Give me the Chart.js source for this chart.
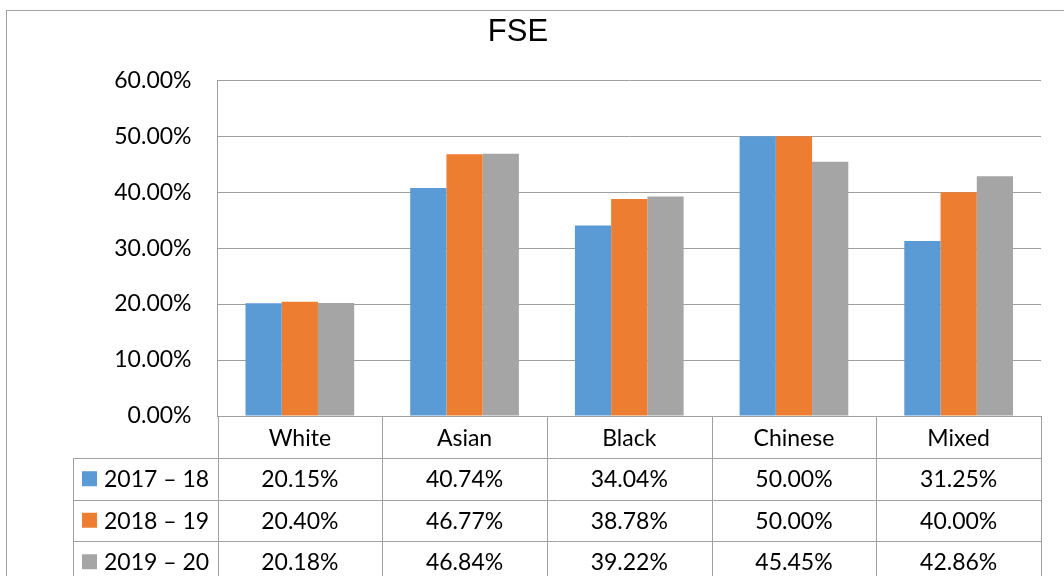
<!DOCTYPE html>
<html>
<head>
<meta charset="utf-8">
<script src="https://cdn.jsdelivr.net/npm/chart.js@4"></script>
<style>
    html, body { margin: 0; padding: 0; background: #fff; }
    #wrap { width: 1064px; height: 576px; }
</style>
</head>
<body>
<div id="wrap"><canvas id="fseChart"></canvas></div>
<script>
const categories = ['White', 'Asian', 'Black', 'Chinese', 'Mixed'];
const seriesNames = ['2017 \u2013 18', '2018 \u2013 19', '2019 \u2013 20'];
const values2017 = [20.15, 40.74, 34.04, 50.00, 31.25];
const values2018 = [20.40, 46.77, 38.78, 50.00, 40.00];
const values2019 = [20.18, 46.84, 39.22, 45.45, 42.86];
const seriesColors = ['#5B9BD5', '#ED7D31', '#A5A5A5'];

const lineGray = '#A0A0A0';
const textFont = '23px Lato';

// draws the outer frame and the data table under the plot
const dataTablePlugin = {
    id: 'dataTable',
    afterLayout(chart) {
        // nudge the title a little left like the original
        chart.titleBlock.left -= 11;
    },
    afterDraw(chart) {
        const ctx = chart.ctx;
        const x = chart.scales.x;
        const area = chart.chartArea;
        const n = categories.length;
        const colW = x.width / n;
        const top = area.bottom + 0.5;
        const rowH = 41.5;
        const legendLeft = 73.5;
        const right = x.right + 0.5;

        ctx.save();
        ctx.strokeStyle = lineGray;
        ctx.lineWidth = 1;

        // outer frame
        ctx.strokeRect(6.5, 10.5, 1200, 700);

        // horizontal row lines
        for (let r = 1; r <= 3; r++) {
            const y = Math.round(top + rowH * r) + 0.5;
            ctx.beginPath();
            ctx.moveTo(legendLeft, y);
            ctx.lineTo(right, y);
            ctx.stroke();
        }
        // vertical column lines
        for (let c = 0; c <= n; c++) {
            const cx = Math.round(x.getPixelForValue(0) - colW / 2 + colW * c) + 0.5;
            ctx.beginPath();
            ctx.moveTo(cx, top);
            ctx.lineTo(cx, chart.height);
            ctx.stroke();
        }
        ctx.beginPath();
        ctx.moveTo(legendLeft, top + rowH);
        ctx.lineTo(legendLeft, chart.height);
        ctx.stroke();

        // legend keys and values
        ctx.font = textFont;
        ctx.fillStyle = '#000';
        ctx.textBaseline = 'middle';
        chart.data.datasets.forEach((ds, r) => {
            const cy = top + rowH * (r + 1.5);
            ctx.fillStyle = ds.backgroundColor;
            ctx.fillRect(82, cy - 7.5, 15, 15);
            ctx.fillStyle = '#000';
            ctx.textAlign = 'left';
            ctx.fillText(seriesNames[r], 104, cy + 1);
            ctx.textAlign = 'center';
            ds.data.forEach((v, i) => {
                ctx.fillText(v.toFixed(2) + '%', x.getPixelForValue(i), cy + 1);
            });
        });
        ctx.restore();
    }
};

const ctx = document.getElementById('fseChart').getContext('2d');
new Chart(ctx, {
    type: 'bar',
    data: {
        labels: categories,
        datasets: [
            { label: seriesNames[0], data: values2017, backgroundColor: seriesColors[0] },
            { label: seriesNames[1], data: values2018, backgroundColor: seriesColors[1] },
            { label: seriesNames[2], data: values2019, backgroundColor: seriesColors[2] },
        ]
    },
    options: {
        responsive: true,
        maintainAspectRatio: false,
        animation: false,
        datasets: {
            bar: { categoryPercentage: 0.66, barPercentage: 1.0 }
        },
        layout: {
            padding: { left: 6, right: 23, top: 10, bottom: 0 }
        },
        plugins: {
            legend: { display: false },
            tooltip: { enabled: false },
            title: {
                display: true,
                text: 'FSE',
                color: '#000',
                font: { family: 'Liberation Sans', size: 31, weight: 'normal' },
                padding: { top: 4, bottom: 29 }
            }
        },
        scales: {
            x: {
                grid: { display: false },
                border: { display: true, color: lineGray, width: 1 },
                ticks: { color: '#000', font: { family: 'Lato', size: 23 }, padding: 1 },
                afterFit(scale) { scale.height = 160; }
            },
            y: {
                min: 0,
                max: 60,
                grid: { color: lineGray, drawTicks: false },
                border: { display: true, color: lineGray, width: 1 },
                ticks: {
                    stepSize: 10,
                    padding: 26,
                    color: '#000',
                    font: { family: 'Lato', size: 23 },
                    callback: (v) => v.toFixed(2) + '%'
                },
                afterFit(scale) { scale.width = 211.5; }
            }
        }
    },
    plugins: [dataTablePlugin]
});
</script>
</body>
</html>
